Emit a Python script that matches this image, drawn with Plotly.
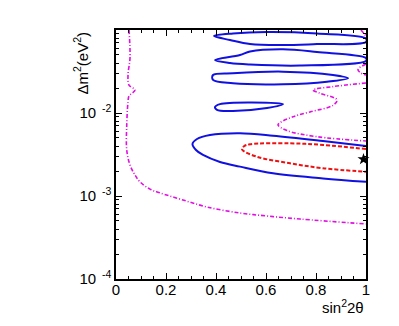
import plotly.graph_objects as go

# ---- data (sin^2 2theta, delta m^2 in eV^2) ----
blue1_x = [0.392, 0.468, 0.604, 0.804, 1.0, 1.0, 0.804, 0.668, 0.536, 0.456, 0.392]
blue1_y = [0.0847, 0.0908, 0.0946, 0.0908, 0.0790, 0.0716, 0.0677, 0.0659, 0.0677, 0.0758, 0.0847]

blue2_x = [0.396, 0.496, 0.536, 0.668, 0.804, 1.0, 1.0, 0.736, 0.536, 0.456, 0.396]
blue2_y = [0.0435, 0.0500, 0.0551, 0.0585, 0.0543, 0.0460, 0.0423, 0.0373, 0.0384, 0.0400, 0.0435]

blue3_x = [0.388, 0.468, 0.668, 0.868, 0.928, 0.844, 0.668, 0.468, 0.388, 0.388]
blue3_y = [0.0287, 0.0301, 0.0315, 0.0287, 0.0262, 0.0238, 0.0222, 0.0228, 0.0250, 0.0287]

blue4_x = [0.396, 0.416, 0.536, 0.668, 0.604, 0.468, 0.404, 0.396]
blue4_y = [0.0118, 0.0128, 0.0134, 0.0128, 0.0115, 0.0106, 0.0109, 0.0118]

blue5_x = [1.0, 0.828, 0.628, 0.496, 0.376, 0.324, 0.306, 0.32, 0.348, 0.416, 0.496, 0.628, 0.828, 1.0]
blue5_y = [0.00400, 0.00460, 0.00533, 0.00569, 0.00543, 0.00486, 0.00423, 0.00358, 0.00312,
           0.00257, 0.00226, 0.00188, 0.00163, 0.00148]

red_x = [1.0, 0.828, 0.696, 0.536, 0.512, 0.504, 0.564, 0.696, 0.828, 1.0]
red_y = [0.00368, 0.00412, 0.00431, 0.00420, 0.00398, 0.00365, 0.00297, 0.00248, 0.00216, 0.00196]

mag1_x = [0.052, 0.056, 0.048, 0.052, 0.076, 0.052, 0.048, 0.043, 0.043, 0.056, 0.076, 0.096,
          0.136, 0.176, 0.268, 0.364, 0.496, 0.604, 0.736, 1.0]
mag1_y = [0.1, 0.0460, 0.0287, 0.0217, 0.0189, 0.0160, 0.0136, 0.00717, 0.00358, 0.00236,
          0.00179, 0.00148, 0.00121, 0.00109, 0.000895, 0.000737, 0.000624, 0.000574, 0.000528, 0.000460]

mag2_x = [1.0, 0.868, 0.788, 0.816, 0.884, 0.868, 0.776, 0.708, 0.656, 0.648, 0.684, 0.804, 1.0]
mag2_y = [0.0230, 0.0208, 0.0189, 0.0173, 0.0144, 0.0124, 0.0103, 0.00902, 0.00765, 0.00717,
          0.00614, 0.00518, 0.00460]

mag3_x = [0.98, 1.0]
mag3_y = [0.1, 0.0847]

mag4_x = [1.0, 0.972, 0.968, 0.98, 1.0]
mag4_y = [0.0389, 0.0348, 0.0330, 0.0303, 0.0287]

star_x = [0.99]
star_y = [0.00277]

x_ticks = [0, 0.2, 0.4, 0.6, 0.8, 1]
x_ticktext = ["0", "0.2", "0.4", "0.6", "0.8", "1"]
x_minor = [0.05, 0.1, 0.15, 0.25, 0.3, 0.35, 0.45, 0.5, 0.55, 0.65, 0.7, 0.75, 0.85, 0.9, 0.95]
y_ticks = [1e-4, 1e-3, 1e-2]
y_ticktext = ["10<sup>  -4</sup>", "10<sup>  -3</sup>", "10<sup>  -2</sup>"]
y_minor = [m * 10.0 ** e for e in (-4, -3, -2) for m in range(2, 10)]

BLUE = "#1010e0"
RED = "#ee1111"
MAG = "#e010e0"

fig = go.Figure()
for bx, by in [(blue1_x, blue1_y), (blue2_x, blue2_y), (blue3_x, blue3_y),
               (blue4_x, blue4_y), (blue5_x, blue5_y)]:
    fig.add_trace(go.Scatter(x=bx, y=by, mode="lines", line=dict(color=BLUE, width=2),
                             line_shape="spline", showlegend=False, hoverinfo="skip"))
fig.add_trace(go.Scatter(x=red_x, y=red_y, mode="lines", line_shape="spline",
                         line=dict(color=RED, width=2, dash="4px,2px"), showlegend=False))
for mx, my in [(mag1_x, mag1_y), (mag2_x, mag2_y), (mag3_x, mag3_y), (mag4_x, mag4_y)]:
    fig.add_trace(go.Scatter(x=mx, y=my, mode="lines", line_shape="spline",
                             line=dict(color=MAG, width=1.6, dash="4px,2px,1px,2px"),
                             showlegend=False))
fig.add_trace(go.Scatter(x=star_x, y=star_y, mode="markers", cliponaxis=False,
                         marker=dict(symbol="star", size=9, color="black"), showlegend=False))

fig.update_layout(
    width=399, height=326,
    margin=dict(l=116, r=33, t=30, b=47),
    paper_bgcolor="white", plot_bgcolor="white",
    font=dict(family="Liberation Sans, Arial, sans-serif", size=15, color="black"),
    xaxis=dict(range=[0, 1], showgrid=False, zeroline=False, showline=True,
               linecolor="black", linewidth=1.5, mirror="ticks",
               ticks="inside", ticklen=6, tickwidth=1, tickcolor="black",
               ticklabelstandoff=-4,
               tickmode="array", tickvals=x_ticks, ticktext=x_ticktext,
               minor=dict(tickmode="array", tickvals=x_minor, ticks="inside",
                          ticklen=3, tickcolor="black", showgrid=False)),
    yaxis=dict(type="log", range=[-4, -1], showgrid=False, zeroline=False, showline=True,
               linecolor="black", linewidth=1.5, mirror="ticks",
               ticks="inside", ticklen=6, tickwidth=1, tickcolor="black",
               tickmode="array", tickvals=y_ticks, ticktext=y_ticktext,
               minor=dict(tickmode="array", tickvals=y_minor, ticks="inside",
                          ticklen=3, tickcolor="black", showgrid=False)),
    annotations=[
        dict(text="sin<sup>2</sup>2θ", xref="paper", yref="paper", x=1.0, y=-0.065,
             xanchor="right", yanchor="top", showarrow=False, font=dict(size=15)),
        dict(text="Δm<sup>2</sup>(eV<sup>2</sup>)", xref="paper", yref="paper",
             x=-0.14, y=1.0, xanchor="center", yanchor="top", textangle=-90,
             showarrow=False, font=dict(size=15)),
    ],
)
fig.write_html("out.html", config={"displayModeBar": False},
               post_script="document.body.style.margin='0';document.body.style.overflow='hidden';")
